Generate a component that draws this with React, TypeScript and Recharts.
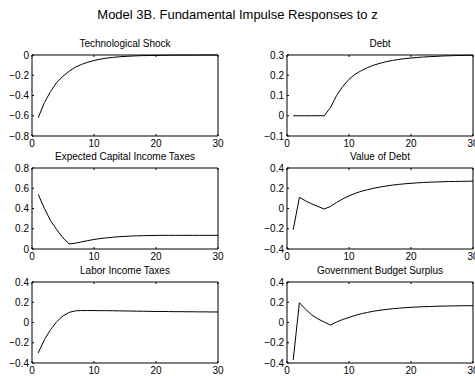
import React from "react";
import { LineChart, Line, XAxis, YAxis } from "recharts";

const periods = [1, 2, 3, 4, 5, 6, 7, 8, 9, 10, 11, 12, 13, 14, 15, 16, 17, 18, 19, 20, 21, 22, 23, 24, 25, 26, 27, 28, 29, 30];

const techShock = [-0.62, -0.47, -0.36, -0.27, -0.21, -0.16, -0.12, -0.093, -0.071, -0.054, -0.041, -0.031, -0.024, -0.018, -0.014, -0.011, -0.008, -0.006, -0.005, -0.004, -0.003, -0.002, -0.002, -0.001, -0.001, -0.001, 0, 0, 0, 0];
const debt = [0, 0, 0, 0, 0, 0, 0.04, 0.1, 0.145, 0.18, 0.205, 0.223, 0.238, 0.25, 0.259, 0.267, 0.273, 0.278, 0.282, 0.285, 0.288, 0.29, 0.292, 0.293, 0.295, 0.296, 0.297, 0.298, 0.298, 0.299];
const capitalTax = [0.54, 0.4, 0.28, 0.19, 0.11, 0.05, 0.058, 0.07, 0.083, 0.094, 0.103, 0.11, 0.116, 0.121, 0.125, 0.128, 0.13, 0.132, 0.133, 0.134, 0.135, 0.135, 0.135, 0.135, 0.135, 0.135, 0.135, 0.135, 0.135, 0.135];
const debtValue = [-0.21, 0.11, 0.075, 0.045, 0.02, -0.005, 0.02, 0.06, 0.095, 0.125, 0.15, 0.17, 0.186, 0.2, 0.212, 0.222, 0.231, 0.238, 0.244, 0.249, 0.253, 0.257, 0.26, 0.262, 0.264, 0.266, 0.267, 0.268, 0.269, 0.27];
const laborTax = [-0.3, -0.17, -0.07, 0.01, 0.065, 0.1, 0.115, 0.118, 0.118, 0.118, 0.117, 0.117, 0.116, 0.115, 0.114, 0.113, 0.112, 0.111, 0.11, 0.109, 0.109, 0.108, 0.107, 0.107, 0.106, 0.106, 0.105, 0.105, 0.104, 0.104];
const budgetSurplus = [-0.37, 0.195, 0.13, 0.075, 0.035, 0.005, -0.025, 0.005, 0.03, 0.05, 0.07, 0.087, 0.1, 0.112, 0.121, 0.129, 0.136, 0.141, 0.146, 0.15, 0.153, 0.156, 0.158, 0.16, 0.162, 0.163, 0.164, 0.165, 0.166, 0.166];

const xTicks = [0, 10, 20, 30];
const ticksTech = [-0.8, -0.6, -0.4, -0.2, 0];
const ticksDebt = [-0.1, 0, 0.1, 0.2, 0.3];
const ticksCap = [0, 0.2, 0.4, 0.6, 0.8];
const ticksWide = [-0.4, -0.2, 0, 0.2, 0.4];

const FONT = '"Liberation Sans", Arial, Helvetica, sans-serif';
const PW = 186;
const PH = 81;
const COLS = [32, 287];
const ROWS = [55, 168, 282];
const TOP_PAD = 7;

const fmt = (v: number) => (v < 0 ? "\u2212" + String(Math.abs(v)) : String(v));
const blank = () => "";

type PanelProps = {
  title: string;
  values: number[];
  domain: [number, number];
  ticks: number[];
  col: number;
  row: number;
};

function Panel({ title, values, domain, ticks, col, row }: PanelProps) {
  const data = periods.map((t, i) => ({ t, v: values[i] }));
  const pl = COLS[col];
  const pt = ROWS[row];
  const rightPad = col === 0 ? 10 : 1;
  const tickStyle = { fontSize: 10, fill: "#000", fontFamily: FONT };
  return (
    <>
      <div
        style={{
          position: "absolute",
          left: pl,
          width: PW,
          top: pt - 17,
          textAlign: "center",
          fontSize: 10,
          fontFamily: FONT,
          color: "#000",
          lineHeight: "12px",
          whiteSpace: "nowrap",
        }}
      >
        {title}
      </div>
      <div style={{ position: "absolute", left: pl - 30, top: pt - 1 - TOP_PAD }}>
        <LineChart
          width={30 + PW + 1 + rightPad}
          height={TOP_PAD + 1 + PH + 18 + 2}
          data={data}
          margin={{ top: TOP_PAD, right: rightPad, bottom: 2, left: 0 }}
        >
          <XAxis
            xAxisId="b"
            dataKey="t"
            type="number"
            domain={[0, 30]}
            ticks={xTicks}
            orientation="bottom"
            height={18}
            tickSize={-2}
            tickMargin={6}
            stroke="#000"
            tick={tickStyle}
            interval={0}
          />
          <XAxis
            xAxisId="top"
            dataKey="t"
            type="number"
            domain={[0, 30]}
            ticks={xTicks}
            orientation="top"
            height={1}
            tickSize={-2}
            stroke="#000"
            tickFormatter={blank}
            interval={0}
          />
          <YAxis
            yAxisId="l"
            type="number"
            domain={domain}
            ticks={ticks}
            width={30}
            tickSize={-2}
            tickMargin={5}
            stroke="#000"
            tick={tickStyle}
            tickFormatter={fmt}
            interval={0}
          />
          <YAxis
            yAxisId="r"
            type="number"
            domain={domain}
            ticks={ticks}
            orientation="right"
            width={1}
            tickSize={-2}
            stroke="#000"
            tickFormatter={blank}
            interval={0}
          />
          <Line
            xAxisId="b"
            yAxisId="l"
            dataKey="v"
            type="linear"
            stroke="#000"
            strokeWidth={1}
            dot={false}
            isAnimationActive={false}
          />
        </LineChart>
      </div>
    </>
  );
}

export default function App() {
  return (
    <div
      style={{
        position: "absolute",
        left: 0,
        top: 0,
        width: 475,
        height: 376,
        background: "#fff",
        overflow: "hidden",
      }}
    >
      <div
        style={{
          position: "absolute",
          left: 0,
          width: 475,
          top: 7,
          textAlign: "center",
          fontSize: 13,
          fontFamily: FONT,
          color: "#000",
          lineHeight: "16px",
        }}
      >
        Model 3B. Fundamental Impulse Responses to z
      </div>
      <Panel title="Technological Shock" values={techShock} domain={[-0.8, 0]} ticks={ticksTech} col={0} row={0} />
      <Panel title="Debt" values={debt} domain={[-0.1, 0.3]} ticks={ticksDebt} col={1} row={0} />
      <Panel title="Expected Capital Income Taxes" values={capitalTax} domain={[0, 0.8]} ticks={ticksCap} col={0} row={1} />
      <Panel title="Value of Debt" values={debtValue} domain={[-0.4, 0.4]} ticks={ticksWide} col={1} row={1} />
      <Panel title="Labor Income Taxes" values={laborTax} domain={[-0.4, 0.4]} ticks={ticksWide} col={0} row={2} />
      <Panel title="Government Budget Surplus" values={budgetSurplus} domain={[-0.4, 0.4]} ticks={ticksWide} col={1} row={2} />
    </div>
  );
}
